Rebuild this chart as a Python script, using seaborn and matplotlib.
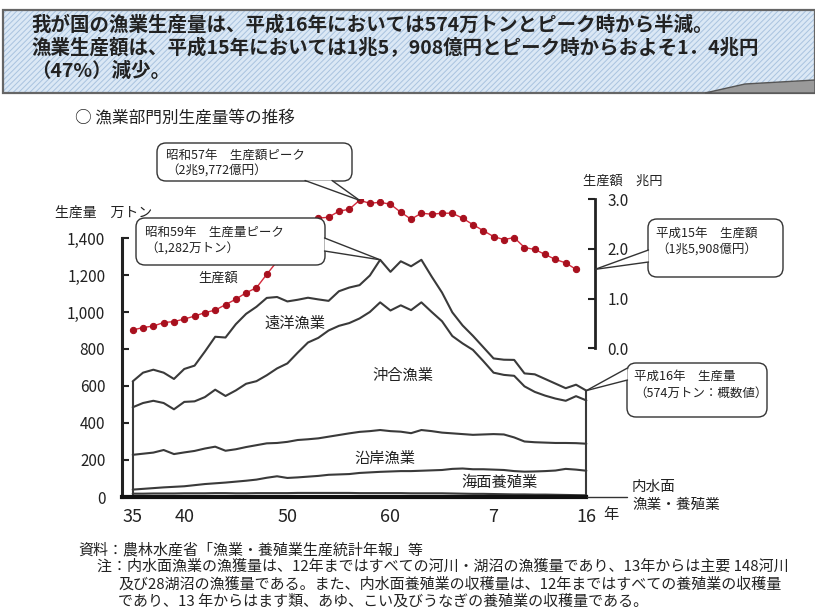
import matplotlib
matplotlib.use("Agg")
import matplotlib.pyplot as plt
import seaborn as sns
import pandas as pd
from matplotlib.patches import FancyBboxPatch, Rectangle, Polygon
from matplotlib.lines import Line2D
from matplotlib.transforms import Affine2D

# 生産量 (万トン), 1960 (昭和35) - 2004 (平成16), cumulative lines from the picture
years = list(range(1960, 2005))
total = [625, 672, 688, 672, 638, 692, 710, 786, 866, 862,
         934, 990, 1028, 1076, 1081, 1057, 1066, 1077, 1068, 1060,
         1112, 1132, 1145, 1197, 1282, 1217, 1274, 1247, 1282, 1191,
         1105, 998, 927, 871, 810, 749, 742, 741, 668, 663,
         638, 613, 588, 607, 575]
offshore_top = [485, 508, 520, 508, 474, 514, 517, 540, 580, 546,
                576, 612, 626, 658, 695, 722, 780, 835, 860, 900,
                925, 940, 965, 1000, 1052, 1008, 1036, 1010, 1052, 1000,
                950, 870, 830, 795, 735, 672, 660, 655, 598, 568,
                548, 532, 520, 545, 522]
coastal_top = [228, 234, 240, 254, 232, 241, 249, 262, 272, 250,
               258, 270, 280, 290, 292, 298, 308, 312, 317, 326,
               335, 344, 352, 356, 362, 356, 353, 345, 362, 356,
               348, 344, 340, 336, 338, 340, 338, 322, 300, 296,
               294, 292, 292, 291, 288]
aquaculture_top = [40, 44, 48, 52, 55, 58, 64, 70, 74, 78,
                   83, 88, 94, 104, 112, 103, 106, 110, 114, 120,
                   122, 124, 130, 133, 136, 138, 140, 140, 142, 144,
                   146, 152, 154, 150, 150, 148, 146, 140, 137, 138,
                   140, 143, 152, 148, 142]
inland_top = [18, 18, 19, 19, 19, 20, 20, 20, 21, 21,
              20, 20, 21, 21, 21, 21, 22, 22, 22, 22,
              22, 22, 21, 21, 21, 21, 21, 20, 20, 20,
              20, 19, 18, 17, 17, 16, 15, 14, 14, 13,
              13, 12, 11, 10, 9]

# 生産額 (兆円), 1960 - 2003
value_years = list(range(1960, 2004))
value = [0.37, 0.42, 0.45, 0.52, 0.54, 0.59, 0.65, 0.72, 0.77, 0.88,
         0.99, 1.12, 1.22, 1.49, 1.75, 2.05, 2.35, 2.55, 2.62, 2.64,
         2.76, 2.80, 2.98, 2.92, 2.94, 2.90, 2.74, 2.60, 2.72, 2.70,
         2.72, 2.72, 2.62, 2.49, 2.37, 2.25, 2.19, 2.23, 2.03, 1.99,
         1.89, 1.79, 1.72, 1.59]

tick_years = [1960, 1965, 1975, 1985, 1995, 2004]
tick_labels = ["35", "40", "50", "60", "7", "16"]
left_ticks = [0, 200, 400, 600, 800, 1000, 1200, 1400]
right_ticks = [0.0, 1.0, 2.0, 3.0]

sns.set_theme(style="white")
plt.rcParams["font.family"] = ["Noto Sans CJK JP", "DejaVu Sans"]
plt.rcParams["hatch.linewidth"] = 0.7

W, H = 815, 614
fig = plt.figure(figsize=(W / 100, H / 100), dpi=100)
fig.patch.set_facecolor("white")
# pixel coordinates, origin top-left
pxt = Affine2D().scale(1 / 100, -1 / 100).translate(0, H / 100) + fig.dpi_scale_trans


def fx(x):
    return x / W


def fy(y):
    return 1 - y / H


ax = fig.add_axes([fx(122), fy(497), fx(595) - fx(122), fy(199.3) - fy(497)])
ax.set_facecolor("none")
ax.set_xlim(1958.96, 2004.84)
ax.set_ylim(0, 1609)

dark = "#3a3a3a"
for series in [total, offshore_top, coastal_top, aquaculture_top, inland_top]:
    sns.lineplot(x=years, y=series, ax=ax, color=dark, linewidth=1.5)
ax.vlines([years[0], years[-1]], 0, [total[0], total[-1]], color=dark, linewidth=1.5)

ax.set_yticks(left_ticks)
ax.set_yticklabels([f"{v:,}" for v in left_ticks])
ax.set_xticks(range(1959, 2005))
ax.set_xticklabels([tick_labels[tick_years.index(y)] if y in tick_years else "" for y in range(1959, 2005)])
ax.tick_params(axis="y", direction="in", length=5, width=1.5, labelsize=11, pad=12, colors="#222")
ax.tick_params(axis="x", direction="out", length=5, width=1.2, labelsize=13, pad=3, colors="#222")
for s in ["top", "right"]:
    ax.spines[s].set_visible(False)
ax.spines["left"].set_bounds(0, 1400)
ax.spines["left"].set_linewidth(2.2)
ax.spines["left"].set_color("#222")
ax.spines["bottom"].set_bounds(1958.96, 2004)
ax.spines["bottom"].set_linewidth(3)
ax.spines["bottom"].set_color("#111")
ax.set_xlabel("")
ax.set_ylabel("")
ax.grid(False)

ax2 = ax.twinx()
ax2.set_ylim(-2.99, 3.0)
sns.lineplot(x=value_years, y=value, ax=ax2, color="#d42a3c", linewidth=1.0,
             marker="o", markersize=4.5, markerfacecolor="#a8101e", markeredgecolor="#a8101e")
ax2.set_yticks(right_ticks)
ax2.set_yticklabels([f"{v:.1f}" for v in right_ticks])
ax2.tick_params(axis="y", direction="in", length=5, width=1.5, labelsize=11, pad=9, colors="#222")
for s in ["top", "left", "bottom"]:
    ax2.spines[s].set_visible(False)
ax2.spines["right"].set_bounds(0, 3)
ax2.spines["right"].set_linewidth(2)
ax2.spines["right"].set_color("#222")
ax2.set_ylabel("")
ax2.grid(False)


def to_px(axis, x, y):
    dx, dy = axis.transData.transform((x, y))
    return dx, H - dy


def text(x, y, s, size=9.5, **kw):
    kw.setdefault("va", "center")
    kw.setdefault("color", "#222")
    fig.text(x, y, s, transform=pxt, fontsize=size, **kw)


# header box
fig.add_artist(Rectangle((3, 10), 812, 83, transform=pxt, facecolor="#dbe8f5",
                         edgecolor="#a9c3df", hatch="//////", linewidth=0, zorder=1))
fig.add_artist(Rectangle((3, 10), 812, 83, transform=pxt, fill=False,
                         edgecolor="#666", linewidth=1.6, zorder=2))
fig.add_artist(Polygon([(705, 93), (745, 84), (815, 80), (815, 93)], closed=True, transform=pxt,
                       facecolor="#9a9a9a", edgecolor="#555", linewidth=1, zorder=3))
text(31, 25, "我が国の漁業生産量は、平成16年においては574万トンとピーク時から半減。", 14, fontweight="bold", zorder=4)
text(31, 48, "漁業生産額は、平成15年においては1兆5，908億円とピーク時からおよそ1．4兆円", 14, fontweight="bold", zorder=4)
text(31, 71, "（47%）減少。", 14, fontweight="bold", zorder=4)

text(75, 118, "○ 漁業部門別生産量等の推移", 12)
text(55, 213, "生産量　万トン", 10)
text(583, 181, "生産額　兆円", 9.5)

# series labels
text(218, 278, "生産額", 9.5, ha="center")
text(295, 323, "遠洋漁業", 11, ha="center")
text(403, 375, "沖合漁業", 11, ha="center")
text(385, 458, "沿岸漁業", 11, ha="center")
text(500, 482, "海面養殖業", 11, ha="center")
text(632, 487, "内水面", 10.5)
text(632, 505, "漁業・養殖業", 10.5)
fig.add_artist(Line2D([587, 627], [497, 497], transform=pxt, color="#333", linewidth=1))
x16, _ = to_px(ax, 2004, 0)
text(x16 + 17, 515, "年", 11)


def callout(box, base, tip, lines, tx, gap=17):
    x0, y0, x1, y1 = box
    fig.add_artist(FancyBboxPatch((x0, y0), x1 - x0, y1 - y0, transform=pxt,
                                  boxstyle="round,pad=0,rounding_size=9",
                                  facecolor="white", edgecolor="#333", linewidth=1, zorder=5))
    fig.add_artist(Polygon([base[0], tip, base[1]], closed=True, transform=pxt,
                           facecolor="white", edgecolor="none", zorder=6))
    for b in base:
        fig.add_artist(Line2D([b[0], tip[0]], [b[1], tip[1]], transform=pxt,
                              color="#333", linewidth=1, zorder=7))
    for i, s in enumerate(lines):
        fig.text(tx[0], tx[1] + i * gap, s, transform=pxt, fontsize=9, va="center",
                 color="#222", zorder=8)


peak_val = value_years[value.index(max(value))]
callout((157, 143, 352, 181), [(305, 180.5), (332, 180.5)], to_px(ax2, peak_val, max(value)),
        ["昭和57年　生産額ピーク", "（2兆9,772億円）"], (166, 155), 16)
peak_tot = years[total.index(max(total))]
callout((136, 218, 325, 265), [(324.5, 238), (324.5, 251)], to_px(ax, peak_tot, max(total)),
        ["昭和59年　生産量ピーク", "（1,282万トン）"], (145, 232))
callout((648, 219, 783, 277), [(648.5, 250), (648.5, 262)], to_px(ax2, ax2.get_xlim()[1], value[-1]),
        ["平成15年　生産額", "（1兆5,908億円）"], (656, 233))
callout((627, 363, 767, 417), [(627.5, 368), (627.5, 380)], to_px(ax, years[-1], total[-1]),
        ["平成16年　生産量", "（574万トン：概数値）"], (634, 376))

# footnotes
text(78, 550, "資料：農林水産省「漁業・養殖業生産統計年報」等", 10.8)
text(97, 567, "注：内水面漁業の漁獲量は、12年まではすべての河川・湖沼の漁獲量であり、13年からは主要 148河川", 10.8)
text(118, 585, "及び28湖沼の漁獲量である。また、内水面養殖業の収穫量は、12年まではすべての養殖業の収穫量", 10.8)
text(118, 602, "であり、13 年からはます類、あゆ、こい及びうなぎの養殖業の収穫量である。", 10.8)

fig.savefig("out.png", dpi=100, facecolor="white")
